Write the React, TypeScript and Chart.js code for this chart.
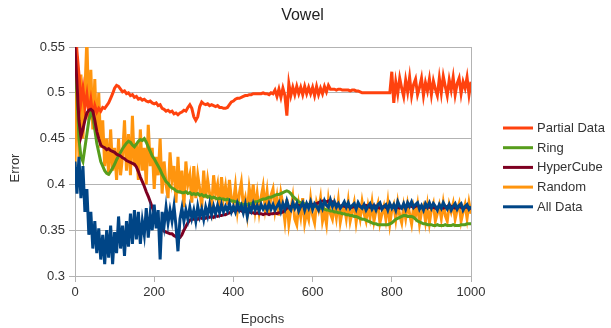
import React, { useEffect, useRef } from "react";
import { Chart, registerables } from "chart.js";

Chart.register(...registerables);

const FONT = "'Liberation Sans', Arial, sans-serif";

const chartTitle = "Vowel";
const xTitle = "Epochs";
const yTitle = "Error";

// sampling grid of the curves (every 5 epochs)
const epochs = Array.from({ length: 201 }, (_, i) => i * 5);
const xTicks = [0, 200, 400, 600, 800, 1000];
const yTicks = [0.3, 0.35, 0.4, 0.45, 0.5, 0.55];

const seriesNames = ["Partial Data", "Ring", "HyperCube", "Random", "All Data"];
const seriesColors = ["#ff420e", "#579d1c", "#7e0021", "#ff950e", "#004586"];

const partialData = [
  0.575, 0.545, 0.52, 0.49, 0.505, 0.484, 0.498, 0.478, 0.492, 0.475, 0.486, 0.479, 0.483, 0.48, 0.484, 0.483, 0.486, 0.489, 0.494, 0.499,
  0.505, 0.508, 0.507, 0.504, 0.501, 0.502, 0.499, 0.5, 0.497, 0.498, 0.495, 0.496, 0.493, 0.494, 0.492, 0.493, 0.491, 0.49, 0.491, 0.489,
  0.488, 0.489, 0.486, 0.487, 0.483, 0.482, 0.48, 0.481, 0.479, 0.48, 0.477, 0.478, 0.476, 0.478, 0.479, 0.481, 0.48, 0.484, 0.487, 0.483,
  0.474, 0.47, 0.474, 0.485, 0.49, 0.488, 0.487, 0.488, 0.486, 0.487, 0.486, 0.485, 0.486, 0.484, 0.484, 0.483, 0.483, 0.484, 0.487, 0.49,
  0.491, 0.493, 0.494, 0.494, 0.495, 0.496, 0.497, 0.497, 0.498, 0.498, 0.499, 0.499, 0.499, 0.499, 0.499, 0.5, 0.499, 0.499, 0.498, 0.5,
  0.499, 0.503, 0.496, 0.504, 0.495, 0.505, 0.497, 0.475, 0.51, 0.497, 0.506, 0.498, 0.507, 0.499, 0.506, 0.498, 0.507, 0.499, 0.506, 0.499,
  0.506, 0.497, 0.507, 0.498, 0.505, 0.499, 0.507, 0.501, 0.508, 0.504, 0.504, 0.504, 0.503, 0.504, 0.504, 0.503, 0.503, 0.503, 0.503, 0.502,
  0.503, 0.503, 0.502, 0.502, 0.501, 0.5, 0.5, 0.5, 0.5, 0.5, 0.5, 0.5, 0.5, 0.5, 0.5, 0.5, 0.5, 0.5, 0.5, 0.5,
  0.523, 0.489, 0.512, 0.499, 0.516, 0.505, 0.496, 0.514, 0.501, 0.517, 0.497, 0.509, 0.515, 0.498, 0.506, 0.516, 0.497, 0.511, 0.502, 0.515,
  0.498, 0.513, 0.504, 0.497, 0.516, 0.5, 0.518, 0.507, 0.497, 0.514, 0.503, 0.517, 0.498, 0.51, 0.516, 0.499, 0.512, 0.505, 0.517, 0.498,
  0.512,
];

const ring = [
  0.52, 0.5, 0.45, 0.43, 0.425, 0.44, 0.455, 0.47, 0.478, 0.476, 0.46, 0.445, 0.435, 0.425, 0.42, 0.415, 0.412, 0.411, 0.414, 0.418,
  0.422, 0.427, 0.431, 0.435, 0.439, 0.442, 0.445, 0.447, 0.446, 0.443, 0.441, 0.444, 0.447, 0.449, 0.448, 0.45, 0.446, 0.441, 0.436, 0.431,
  0.428, 0.424, 0.42, 0.416, 0.411, 0.407, 0.403, 0.401, 0.398, 0.396, 0.395, 0.393, 0.392, 0.392, 0.391, 0.391, 0.392, 0.39, 0.391, 0.389,
  0.39, 0.389, 0.39, 0.388, 0.389, 0.387, 0.388, 0.386, 0.387, 0.385, 0.386, 0.385, 0.384, 0.385, 0.384, 0.384, 0.383, 0.384, 0.383, 0.382,
  0.382, 0.381, 0.381, 0.379, 0.379, 0.378, 0.378, 0.378, 0.379, 0.379, 0.38, 0.381, 0.381, 0.382, 0.383, 0.384, 0.384, 0.385, 0.386, 0.386,
  0.387, 0.388, 0.389, 0.389, 0.39, 0.391, 0.392, 0.393, 0.392, 0.39, 0.387, 0.385, 0.383, 0.381, 0.38, 0.379, 0.379, 0.378, 0.378, 0.377,
  0.377, 0.376, 0.376, 0.375, 0.374, 0.374, 0.373, 0.372, 0.372, 0.371, 0.371, 0.37, 0.37, 0.369, 0.369, 0.368, 0.368, 0.367, 0.367, 0.366,
  0.366, 0.365, 0.365, 0.364, 0.363, 0.362, 0.362, 0.361, 0.36, 0.359, 0.358, 0.357, 0.357, 0.356, 0.356, 0.356, 0.356, 0.356, 0.356, 0.357,
  0.358, 0.36, 0.362, 0.363, 0.364, 0.365, 0.366, 0.366, 0.365, 0.365, 0.365, 0.364, 0.362, 0.36, 0.359, 0.358, 0.357, 0.357, 0.356, 0.356,
  0.356, 0.355, 0.355, 0.356, 0.355, 0.355, 0.355, 0.356, 0.355, 0.355, 0.355, 0.356, 0.355, 0.355, 0.355, 0.356, 0.356, 0.356, 0.357, 0.357,
  0.357,
];

const hyperCube = [
  0.55, 0.51, 0.47, 0.452, 0.46, 0.47, 0.478, 0.481, 0.482, 0.48, 0.47, 0.458, 0.45, 0.443, 0.441, 0.44, 0.438, 0.439, 0.437, 0.436,
  0.435, 0.433, 0.432, 0.431, 0.429, 0.428, 0.426, 0.425, 0.424, 0.423, 0.422, 0.419, 0.414, 0.408, 0.403, 0.398, 0.392, 0.387, 0.381, 0.375,
  0.369, 0.363, 0.358, 0.354, 0.351, 0.349, 0.348, 0.347, 0.346, 0.346, 0.344, 0.343, 0.341, 0.342, 0.345, 0.35, 0.354, 0.358, 0.361, 0.362,
  0.362, 0.363, 0.362, 0.364, 0.363, 0.364, 0.363, 0.365, 0.364, 0.365, 0.364, 0.366, 0.365, 0.366, 0.366, 0.367, 0.367, 0.368, 0.369, 0.37,
  0.372, 0.373, 0.372, 0.372, 0.371, 0.37, 0.371, 0.37, 0.37, 0.369, 0.369, 0.368, 0.369, 0.368, 0.368, 0.367, 0.368, 0.368, 0.367, 0.368,
  0.368, 0.369, 0.368, 0.369, 0.369, 0.37, 0.372, 0.374, 0.375, 0.376, 0.376, 0.377, 0.376, 0.377, 0.376, 0.377, 0.377, 0.376, 0.377, 0.377,
  0.378, 0.378, 0.379, 0.38, 0.381, 0.382, 0.382, 0.381, 0.382, 0.381, 0.381, 0.38, 0.378, 0.377, 0.376, 0.377, 0.376, 0.377, 0.376, 0.375,
  0.375, 0.376, 0.375, 0.377, 0.376, 0.375, 0.376, 0.377, 0.376, 0.375, 0.376, 0.377, 0.376, 0.375, 0.374, 0.375, 0.376, 0.375, 0.376, 0.377,
  0.376, 0.375, 0.376, 0.375, 0.374, 0.375, 0.376, 0.375, 0.376, 0.377, 0.376, 0.375, 0.376, 0.377, 0.376, 0.375, 0.374, 0.375, 0.376, 0.375,
  0.376, 0.375, 0.374, 0.375, 0.376, 0.375, 0.374, 0.375, 0.376, 0.377, 0.376, 0.375, 0.374, 0.375, 0.376, 0.375, 0.374, 0.375, 0.375, 0.374,
  0.374,
];

const random = [
  0.42, 0.54, 0.43, 0.52, 0.45, 0.5, 0.56, 0.47, 0.525, 0.46, 0.515, 0.45, 0.5, 0.44, 0.47, 0.42, 0.45, 0.41, 0.46, 0.415,
  0.44, 0.405, 0.45, 0.41, 0.43, 0.47, 0.415, 0.455, 0.41, 0.475, 0.42, 0.445, 0.405, 0.46, 0.415, 0.44, 0.4, 0.465, 0.42, 0.44,
  0.395, 0.43, 0.41, 0.45, 0.39, 0.425, 0.4, 0.385, 0.435, 0.405, 0.42, 0.38, 0.43, 0.39, 0.415, 0.375, 0.425, 0.4, 0.41, 0.38,
  0.42, 0.385, 0.41, 0.395, 0.375, 0.415, 0.385, 0.405, 0.39, 0.375, 0.41, 0.39, 0.4, 0.372, 0.408, 0.385, 0.398, 0.378, 0.405, 0.383,
  0.38, 0.398, 0.372, 0.39, 0.402, 0.376, 0.385, 0.368, 0.396, 0.381, 0.4, 0.373, 0.39, 0.37, 0.386, 0.398, 0.375, 0.392, 0.368, 0.388,
  0.395, 0.372, 0.386, 0.366, 0.39, 0.378, 0.36, 0.384, 0.357, 0.372, 0.386, 0.362, 0.356, 0.378, 0.365, 0.385, 0.358, 0.37, 0.362, 0.384,
  0.366, 0.358, 0.38, 0.372, 0.385, 0.36, 0.37, 0.357, 0.383, 0.368, 0.362, 0.378, 0.364, 0.382, 0.359, 0.371, 0.377, 0.363, 0.381, 0.36,
  0.37, 0.38, 0.359, 0.374, 0.363, 0.381, 0.368, 0.36, 0.376, 0.364, 0.38, 0.36, 0.371, 0.379, 0.358, 0.368, 0.376, 0.362, 0.38, 0.357,
  0.372, 0.378, 0.362, 0.38, 0.366, 0.358, 0.376, 0.363, 0.379, 0.368, 0.357, 0.375, 0.366, 0.378, 0.357, 0.37, 0.376, 0.36, 0.377, 0.358,
  0.372, 0.379, 0.36, 0.368, 0.377, 0.363, 0.38, 0.366, 0.36, 0.378, 0.37, 0.379, 0.362, 0.372, 0.379, 0.36, 0.37, 0.378, 0.363, 0.38,
  0.368,
];

const allData = [
  0.425, 0.39, 0.43, 0.385, 0.42, 0.37, 0.395, 0.345, 0.37, 0.33, 0.36, 0.325, 0.352, 0.318, 0.345, 0.313, 0.35, 0.32, 0.355, 0.313,
  0.348, 0.325, 0.365, 0.33, 0.355, 0.322, 0.36, 0.332, 0.368, 0.335, 0.372, 0.34, 0.37, 0.335, 0.36, 0.345, 0.374, 0.342, 0.368, 0.35,
  0.378, 0.352, 0.372, 0.318, 0.37, 0.355, 0.375, 0.358, 0.372, 0.36, 0.376, 0.355, 0.327, 0.362, 0.374, 0.36, 0.372, 0.362, 0.375, 0.363,
  0.372, 0.36, 0.376, 0.365, 0.373, 0.362, 0.375, 0.366, 0.378, 0.367, 0.376, 0.368, 0.377, 0.369, 0.378, 0.37, 0.376, 0.371, 0.379, 0.37,
  0.376, 0.37, 0.379, 0.372, 0.377, 0.369, 0.378, 0.365, 0.376, 0.371, 0.379, 0.372, 0.377, 0.371, 0.378, 0.373, 0.377, 0.372, 0.379, 0.373,
  0.378, 0.372, 0.376, 0.38, 0.371, 0.379, 0.373, 0.382, 0.375, 0.372, 0.38, 0.374, 0.379, 0.371, 0.376, 0.38, 0.372, 0.379, 0.374, 0.381,
  0.373, 0.379, 0.376, 0.372, 0.38, 0.374, 0.382, 0.377, 0.375, 0.383, 0.376, 0.381, 0.375, 0.379, 0.374, 0.377, 0.381, 0.375, 0.38, 0.374,
  0.377, 0.379, 0.373, 0.38, 0.376, 0.374, 0.378, 0.372, 0.376, 0.379, 0.373, 0.377, 0.372, 0.378, 0.38, 0.373, 0.376, 0.378, 0.372, 0.379,
  0.374, 0.378, 0.372, 0.381, 0.376, 0.374, 0.379, 0.373, 0.38, 0.376, 0.381, 0.375, 0.378, 0.38, 0.373, 0.377, 0.372, 0.379, 0.375, 0.38,
  0.374, 0.379, 0.376, 0.372, 0.378, 0.374, 0.38, 0.376, 0.373, 0.378, 0.372, 0.376, 0.379, 0.373, 0.377, 0.379, 0.372, 0.376, 0.378, 0.373,
  0.376,
];

const seriesValues = [partialData, ring, hyperCube, random, allData];
// draw order: lower = on top
const seriesOrder = [3, 2, 1, 4, 0];

const decorPlugin = {
  id: "decor",
  beforeDatasetsDraw(chart: any) {
    const { ctx, chartArea } = chart;
    ctx.save();
    ctx.strokeStyle = "#b3b3b3";
    ctx.lineWidth = 1;
    const x = Math.round(chartArea.right) + 0.5;
    ctx.beginPath();
    ctx.moveTo(x, chartArea.top);
    ctx.lineTo(x, chartArea.bottom);
    ctx.stroke();
    ctx.restore();
  },
  afterDraw(chart: any) {
    const { ctx } = chart;
    ctx.save();
    // title
    ctx.fillStyle = "#222";
    ctx.font = `16px ${FONT}`;
    ctx.textAlign = "center";
    ctx.textBaseline = "middle";
    ctx.fillText(chartTitle, 302.5, 16);
    // axis titles
    ctx.font = `13px ${FONT}`;
    ctx.fillStyle = "#333";
    ctx.fillText(xTitle, 262.5, 319);
    ctx.save();
    ctx.translate(15, 168);
    ctx.rotate(-Math.PI / 2);
    ctx.fillText(yTitle, 0, 0);
    ctx.restore();
    // legend
    ctx.textAlign = "left";
    seriesNames.forEach((name, i) => {
      const y = 128 + i * 19.7;
      ctx.strokeStyle = seriesColors[i];
      ctx.lineWidth = 3;
      ctx.beginPath();
      ctx.moveTo(503, y);
      ctx.lineTo(533, y);
      ctx.stroke();
      ctx.fillStyle = "#333";
      ctx.fillText(name, 537, y + 0.5);
    });
    ctx.restore();
  },
};

export default function App() {
  const canvasRef = useRef<HTMLCanvasElement | null>(null);

  useEffect(() => {
    const canvas = canvasRef.current;
    if (!canvas) return;
    const chart = new Chart(canvas, {
      type: "line",
      data: {
        datasets: seriesNames.map((name, i) => ({
          label: name,
          data: epochs.map((e, j) => ({ x: e, y: seriesValues[i][j] })),
          borderColor: seriesColors[i],
          backgroundColor: seriesColors[i],
          borderWidth: 3,
          pointRadius: 0,
          tension: 0,
          fill: false,
          order: seriesOrder[i],
        })),
      },
      options: {
        responsive: false,
        animation: false,
        events: [],
        layout: { padding: { left: 0, right: 140, top: 47, bottom: 0 } },
        plugins: {
          legend: { display: false },
          title: { display: false },
          tooltip: { enabled: false },
        },
        scales: {
          x: {
            type: "linear",
            min: 0,
            max: 1000,
            afterBuildTicks: (scale: any) => {
              scale.ticks = xTicks.map((v) => ({ value: v }));
            },
            afterFit: (scale: any) => {
              scale.height = 52;
            },
            ticks: {
              color: "#333",
              font: { family: FONT, size: 13 },
              padding: 3,
              maxRotation: 0,
              callback: (v: any) => String(v),
            },
            grid: {
              drawOnChartArea: false,
              drawTicks: true,
              tickLength: 6,
              color: "#b3b3b3",
            },
            border: { color: "#b3b3b3" },
          },
          y: {
            type: "linear",
            min: 0.3,
            max: 0.55,
            afterBuildTicks: (scale: any) => {
              scale.ticks = yTicks.map((v) => ({ value: v }));
            },
            afterFit: (scale: any) => {
              scale.width = 75;
            },
            ticks: {
              color: "#333",
              font: { family: FONT, size: 13 },
              padding: 4,
              callback: (v: any) => String(Number(Number(v).toFixed(2))),
            },
            grid: {
              drawTicks: true,
              tickLength: 6,
              color: "#b3b3b3",
            },
            border: { color: "#b3b3b3" },
          },
        },
      },
      plugins: [decorPlugin],
    });
    return () => chart.destroy();
  }, []);

  return (
    <canvas
      ref={canvasRef}
      width={611}
      height={328}
      style={{ position: "absolute", left: 0, top: 0, display: "block", background: "#fff" }}
    />
  );
}
